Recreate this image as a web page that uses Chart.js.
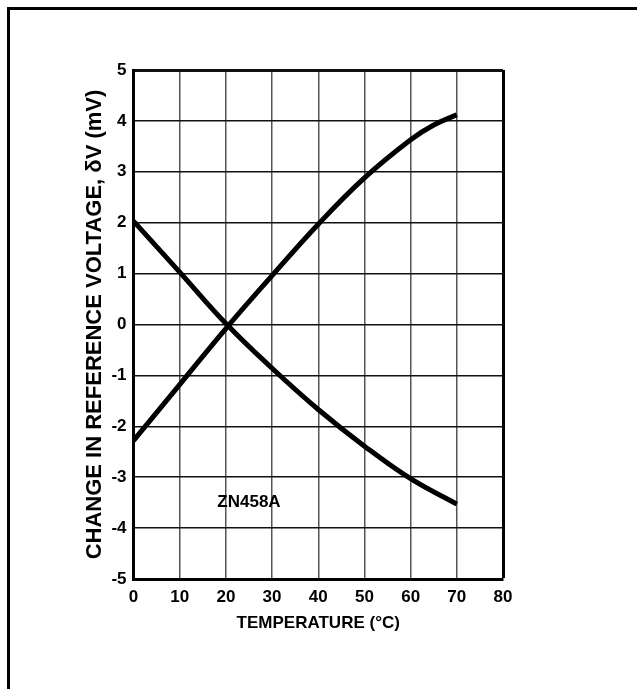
<!DOCTYPE html>
<html>
<head>
<meta charset="utf-8">
<script src="https://cdn.jsdelivr.net/npm/chart.js@4.4.0/dist/chart.umd.min.js"></script>
<style>
  html, body { margin: 0; padding: 0; background: #fff; }
  #wrap { position: relative; width: 637px; height: 689px; overflow: hidden; }
  #frame {
    position: absolute; left: 7px; top: 7px; right: -10px; bottom: -10px;
    border-left: 3px solid #000; border-top: 3px solid #000;
  }
  canvas { position: absolute; left: 0; top: 0; }
</style>
</head>
<body>
<div id="wrap">
  <div id="frame"></div>
  <canvas id="chart" width="637" height="689"></canvas>
</div>
<script>
// temperature points (degrees C)
const temps = [0, 10, 20, 30, 40, 50, 60, 65, 70];
// rising curve, mV
const risingCurve = [-2.28, -1.18, -0.08, 0.96, 1.97, 2.88, 3.63, 3.92, 4.12];
// falling curve, mV
const fallTemps = [0, 10, 20, 30, 40, 50, 60, 70];
const fallingCurve = [2.03, 1.03, 0.02, -0.86, -1.67, -2.39, -3.03, -3.53];

const xTicks = [0, 10, 20, 30, 40, 50, 60, 70, 80];
const yTicks = [-5, -4, -3, -2, -1, 0, 1, 2, 3, 4, 5];

const deviceLabel = { text: 'ZN458A', x: 25, y: -3.5 };

const FONT = "'Liberation Sans', Arial, sans-serif";

const toPoints = (xs, ys) => xs.map((x, i) => ({ x: x, y: ys[i] }));

// draws the part-number label inside the plot
const labelPlugin = {
  id: 'deviceLabel',
  afterDatasetsDraw(chart) {
    const { ctx, scales } = chart;
    ctx.save();
    ctx.font = 'bold 17px ' + FONT;
    ctx.fillStyle = '#000';
    ctx.textAlign = 'center';
    ctx.textBaseline = 'middle';
    ctx.fillText(deviceLabel.text, scales.x.getPixelForValue(deviceLabel.x), scales.y.getPixelForValue(deviceLabel.y));
    ctx.restore();
  }
};

const lineStyle = {
  borderColor: '#000',
  borderWidth: 5,
  pointRadius: 0,
  fill: false,
  tension: 0.4,
  borderCapStyle: 'butt'
};

new Chart(document.getElementById('chart'), {
  type: 'line',
  data: {
    datasets: [
      Object.assign({ label: 'rising', data: toPoints(temps, risingCurve) }, lineStyle),
      Object.assign({ label: 'falling', data: toPoints(fallTemps, fallingCurve) }, lineStyle)
    ]
  },
  options: {
    responsive: false,
    animation: false,
    devicePixelRatio: 1,
    layout: { padding: { left: 70, top: 70, right: 134, bottom: 0 } },
    plugins: { legend: { display: false }, tooltip: { enabled: false } },
    scales: {
      x: {
        type: 'linear',
        min: 0,
        max: 80,
        afterBuildTicks: s => { s.ticks = xTicks.map(v => ({ value: v })); },
        afterFit: s => { s.height = 110; },
        grid: {
          drawTicks: false,
          color: ctx => (ctx.index === xTicks.length - 1 ? '#000' : '#555'),
          lineWidth: ctx => (ctx.index === xTicks.length - 1 ? 3 : 1.5)
        },
        border: { color: '#000', width: 3 },
        ticks: { color: '#000', padding: 8, font: { family: FONT, size: 17, weight: 'bold' } },
        title: {
          display: true,
          text: 'TEMPERATURE (°C)',
          color: '#000',
          padding: { top: 0, bottom: 55 },
          font: { family: FONT, size: 17, weight: 'bold' }
        }
      },
      y: {
        type: 'linear',
        min: -5,
        max: 5,
        afterBuildTicks: s => { s.ticks = yTicks.map(v => ({ value: v })); },
        afterFit: s => { s.width = 63.5; },
        grid: {
          drawTicks: false,
          color: '#111',
          lineWidth: ctx => (ctx.index === yTicks.length - 1 ? 3 : 1.5)
        },
        border: { color: '#000', width: 3 },
        ticks: { color: '#000', padding: 7, font: { family: FONT, size: 17, weight: 'bold' } },
        title: {
          display: true,
          text: 'CHANGE IN REFERENCE VOLTAGE, δV (mV)',
          color: '#000',
          padding: { top: 12, bottom: 0 },
          font: { family: FONT, size: 22, weight: 'bold' }
        }
      }
    }
  },
  plugins: [labelPlugin]
});
</script>
</body>
</html>
